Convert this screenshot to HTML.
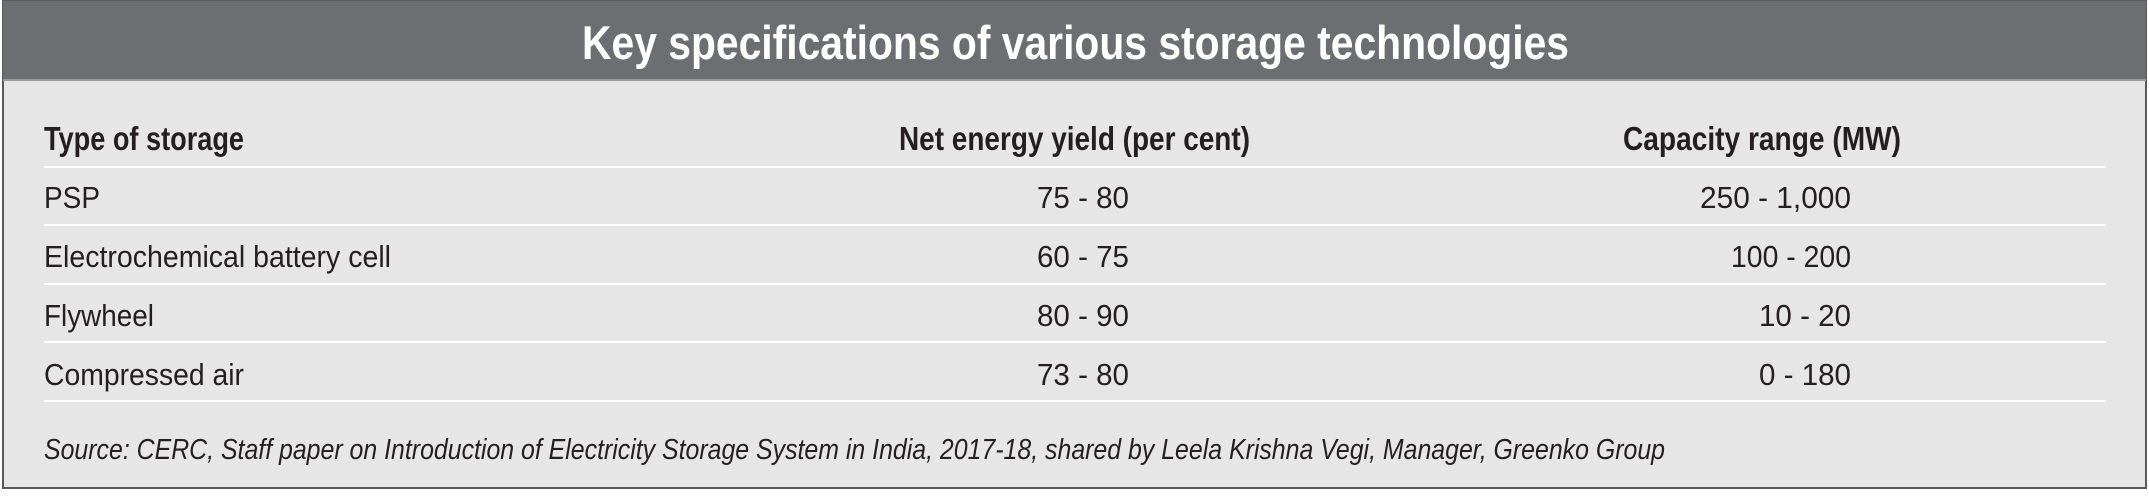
<!DOCTYPE html>
<html><head><meta charset="utf-8"><style>
html,body{margin:0;padding:0;background:#fff;}
svg{display:block;}
text{font-family:"Liberation Sans",Arial,sans-serif;fill:#231f20;}
</style></head><body>
<svg width="2149" height="496" viewBox="0 0 2149 496" xmlns="http://www.w3.org/2000/svg">
<rect x="0" y="0" width="2149" height="496" fill="#ffffff"/>
<rect x="3" y="1" width="2143" height="487" fill="#e6e6e7" stroke="#58595b" stroke-width="2"/>
<rect x="3" y="1" width="2143" height="79" fill="#6d6e71"/>
<line x1="3" y1="80" x2="2146" y2="80" stroke="#9a9a9c" stroke-width="2"/>
<text x="582" y="59" font-size="47" font-weight="bold" style="fill:#ffffff" textLength="987" lengthAdjust="spacingAndGlyphs">Key specifications of various storage technologies</text>

<text x="44" y="150" font-size="33" font-weight="bold" textLength="200" lengthAdjust="spacingAndGlyphs">Type of storage</text>
<text x="899" y="150" font-size="33" font-weight="bold" textLength="351" lengthAdjust="spacingAndGlyphs">Net energy yield (per cent)</text>
<text x="1623" y="150" font-size="33" font-weight="bold" textLength="278" lengthAdjust="spacingAndGlyphs">Capacity range (MW)</text>

<g stroke="#ffffff" stroke-width="2">
<line x1="44" y1="167" x2="2106" y2="167"/>
<line x1="44" y1="225" x2="2106" y2="225"/>
<line x1="44" y1="284" x2="2106" y2="284"/>
<line x1="44" y1="342" x2="2106" y2="342"/>
<line x1="44" y1="401" x2="2106" y2="401"/>
</g>

<g font-size="31">
<text x="44" y="208" textLength="56" lengthAdjust="spacingAndGlyphs">PSP</text>
<text x="44" y="267" textLength="347" lengthAdjust="spacingAndGlyphs">Electrochemical battery cell</text>
<text x="44" y="326" textLength="110" lengthAdjust="spacingAndGlyphs">Flywheel</text>
<text x="44" y="385" textLength="200" lengthAdjust="spacingAndGlyphs">Compressed air</text>

<text x="1037" y="208" textLength="92" lengthAdjust="spacingAndGlyphs">75 - 80</text>
<text x="1037" y="267" textLength="92" lengthAdjust="spacingAndGlyphs">60 - 75</text>
<text x="1037" y="326" textLength="92" lengthAdjust="spacingAndGlyphs">80 - 90</text>
<text x="1037" y="385" textLength="92" lengthAdjust="spacingAndGlyphs">73 - 80</text>

<text x="1700" y="208" textLength="151" lengthAdjust="spacingAndGlyphs">250 - 1,000</text>
<text x="1731" y="267" textLength="120" lengthAdjust="spacingAndGlyphs">100 - 200</text>
<text x="1759" y="326" textLength="92" lengthAdjust="spacingAndGlyphs">10 - 20</text>
<text x="1759" y="385" textLength="92" lengthAdjust="spacingAndGlyphs">0 - 180</text>
</g>

<text x="44" y="459" font-size="29" font-style="italic" textLength="1621" lengthAdjust="spacingAndGlyphs">Source: CERC, Staff paper on Introduction of Electricity Storage System in India, 2017-18, shared by Leela Krishna Vegi, Manager, Greenko Group</text>
</svg>
</body></html>
